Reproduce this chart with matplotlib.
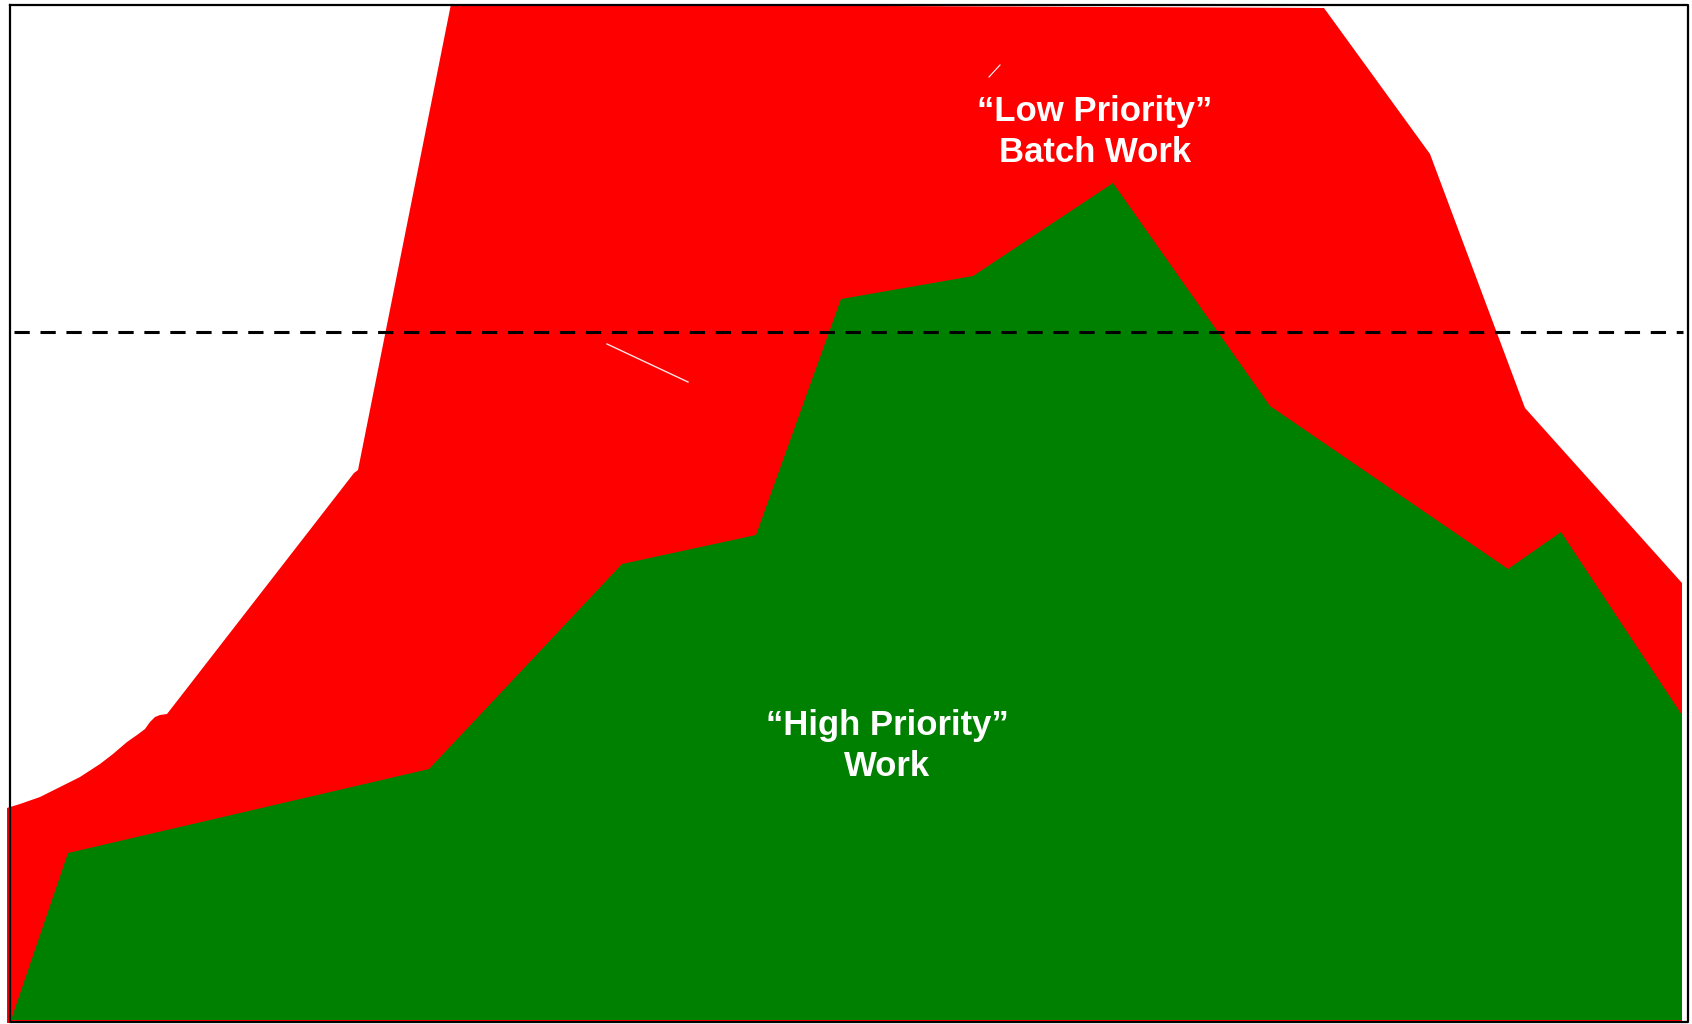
import matplotlib.pyplot as plt

# outlines, in pixel units (x right, y down)
batch_x = [7, 20, 40, 60, 80, 100, 113, 127, 137, 145, 150, 155, 160, 167,
           354, 358, 451, 1324, 1430, 1525, 1682, 1682, 7]
batch_y = [808, 804, 797, 787, 777, 764, 754, 742, 735, 729, 722, 717, 715,
           714, 473, 470, 4, 8, 154, 408, 583, 1023, 1023]

high_x = [11, 68, 429, 622, 756, 841, 973, 1113, 1270, 1508, 1561, 1682, 1682]
high_y = [1020, 853, 769, 564, 535, 299, 276, 183, 406, 569, 532, 715, 1020]

capacity_y = 332
capacity_x = [14, 1683]

# two stray white strokes in the original
stray1_x = [607, 688]
stray1_y = [344, 382]
stray2_x = [989, 1000]
stray2_y = [77, 65]

frame_x = [9.5, 1688, 1688, 9.5, 9.5]
frame_y = [4.5, 4.5, 1022, 1022, 4.5]

low_label = "\u201cLow Priority\u201d\nBatch Work"
high_label = "\u201cHigh Priority\u201d\nWork"


def main():
    fig = plt.figure(figsize=(16.92, 10.24), dpi=100)
    ax = fig.add_axes([0, 0, 1, 1])
    ax.set_xlim(0, 1692)
    ax.set_ylim(1024, 0)
    ax.axis("off")

    ax.fill(batch_x, batch_y, color="#ff0000", lw=0)
    ax.fill(high_x, high_y, color="#008000", lw=0)

    ax.plot(capacity_x, [capacity_y, capacity_y], color="black", lw=2.2,
            dashes=(5, 3.5))

    ax.plot(stray1_x, stray1_y, color="white", lw=1.0, alpha=0.9)
    ax.plot(stray2_x, stray2_y, color="white", lw=0.8)

    ax.plot(frame_x, frame_y, color="black", lw=1.6)

    ax.text(1095, 132, low_label, color="white", fontsize=25,
            fontweight="bold", family="Liberation Sans", ha="center",
            va="center", linespacing=1.33)
    ax.text(887, 746, high_label, color="white", fontsize=25,
            fontweight="bold", family="Liberation Sans", ha="center",
            va="center", linespacing=1.33)

    fig.savefig("out.png", dpi=100)


if __name__ == "__main__":
    main()
